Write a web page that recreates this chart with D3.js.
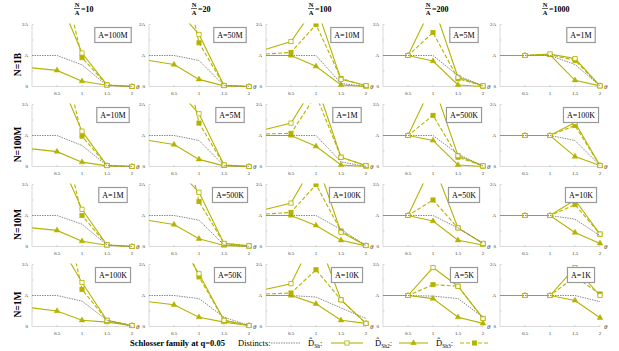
<!DOCTYPE html>
<html>
<head>
<meta charset="utf-8">
<script src="https://cdn.jsdelivr.net/npm/d3@7"></script>
<style>
  html, body { margin: 0; padding: 0; background: #fff; }
  svg { display: block; font-family: "Liberation Serif", "DejaVu Serif", serif; }
</style>
</head>
<body>
<svg id="chart" width="619" height="351"></svg>
<script>
// ---- Data ----
const thetas = [0, 0.5, 1, 1.5, 2];
const xTicks = [0.5, 1, 1.5, 2];
const colRatios = ["10", "20", "100", "200", "1000"];
const rowLabels = ["N=1B", "N=100M", "N=10M", "N=1M"];
const boxLabels = [
  ["A=100M", "A=50M", "A=10M", "A=5M", "A=1M"],
  ["A=10M", "A=5M", "A=1M", "A=500K", "A=100K"],
  ["A=1M", "A=500K", "A=100K", "A=50K", "A=10K"],
  ["A=100K", "A=50K", "A=10K", "A=5K", "A=1K"]
];

// values in units of A, one row per N, one list per N/A column
const distincts = [
  [[1,1,0.7,0.03,0], [1,1,0.84,0.03,0], [1,1,1,0.1,0], [1,1,1,0.35,0.02], [1,1,1,0.71,0.02]],
  [[1,1,0.68,0.03,0], [1,1,0.84,0.03,0], [1,1,1,0.15,0], [1,1,1,0.4,0.02], [1,1,1,0.84,0.03]],
  [[1,1,0.72,0.05,0], [1,1,0.85,0.05,0], [1,1,1,0.55,0.03], [1,1,1,0.6,0.1], [1,1,1,0.88,0.35]],
  [[1,1,0.82,0.2,0], [1,1,0.9,0.3,0.03], [1,1,0.95,0.6,0.26], [1,1,0.98,0.9,0.3], [1,1,1,1,0.8]]
];
const dSh = [
  [[5,3.0,1.08,0.05,0], [3.5,2.6,1.68,0.03,0], [1.2,1.45,2.6,0.23,0.03], [1,1,2.67,0.3,0.02], [1,1,1.05,0.9,0.02]],
  [[5,3.0,1.14,0.03,0], [3.5,2.6,1.7,0.05,0], [1.2,1.4,2.7,0.3,0.03], [1,1,2.7,0.35,0.02], [1,1,1.0,1.42,0.03]],
  [[5,3.0,1.2,0.05,0], [3.5,2.6,1.75,0.1,0.02], [1.2,1.4,2.8,0.46,0.03], [1,1,2.7,0.6,0.1], [1,1,1,1.5,0.4]],
  [[5,2.8,1.42,0.2,0.03], [4,3,1.7,0.2,0.03], [1.2,1.38,3,0.86,0.1], [1,1,1.9,1.3,0.26], [1,1,1,1.9,1.0]]
];
const dSh2 = [
  [[0.6,0.52,0.17,0.04,0], [0.84,0.71,0.23,0.02,0], [1,1,0.65,0.05,0], [1,1,0.82,0.05,0], [1,1,1.02,0.2,0.02]],
  [[0.57,0.48,0.14,0.02,0], [0.84,0.71,0.23,0.02,0], [1,1,0.65,0.05,0], [1,1,0.84,0.05,0], [1,1,1,0.32,0.03]],
  [[0.6,0.52,0.17,0.04,0], [0.84,0.71,0.25,0.03,0], [1,1,0.68,0.2,0.02], [1,1,0.82,0.2,0.05], [1,1,1,0.45,0.1]],
  [[0.6,0.5,0.2,0.14,0.03], [0.8,0.7,0.3,0.14,0.03], [1,1,0.73,0.2,0.1], [1,1,0.9,0.3,0.1], [1,1,1,0.84,0.28]]
];
const dSh3 = [
  [[6,4.3,0.93,0.05,0], [8,5.1,1.41,0.03,0], [1.05,1.1,2.0,0.26,0.02], [1,1,1.74,0.25,0.02], [1,1,1.03,0.84,0.02]],
  [[6,4.4,0.98,0.03,0], [8,5,1.4,0.05,0], [1.05,1.07,2.3,0.3,0.02], [1,1,1.65,0.3,0.02], [1,1,1,1.32,0.03]],
  [[6,4.4,1.0,0.05,0], [8,5,1.45,0.1,0.02], [1.05,1.1,2.0,0.5,0.03], [1,1,1.5,0.6,0.1], [1,1,1,1.35,0.4]],
  [[6,4.85,1.2,0.2,0.03], [5,3.5,1.6,0.2,0.03], [1.05,1.08,1.83,0.86,0.1], [1,1,1.35,1.3,0.26], [1,1,1,1.6,1.05]]
];

// ---- Layout ----
const olive = "#b5b300";
const gray = "#8a8a8a";
const panelW = 100, panelH = 62;
const colX = c => 32 + 117 * c;
const rowY = r => 86.5 + 80 * r;   // y of the zero line

const svg = d3.select("#chart");
const x = d3.scaleLinear().domain([0, 2]).range([0, panelW]);
const y = d3.scaleLinear().domain([0, 2]).range([0, -panelH]);

const series = [
  { data: dSh3, dash: "4,2", marker: "square", fill: olive },
  { data: dSh2, dash: null, marker: "triangle", fill: olive },
  { data: dSh, dash: null, marker: "square", fill: "#fff" },
  { data: distincts, dash: "1.5,1", marker: null, stroke: gray, width: 1 }
];

const line = d3.line().x((d, i) => x(thetas[i])).y(d => y(d));

function marker(sel, type, fill) {
  if (type === "square") {
    sel.append("rect").attr("x", -2.1).attr("y", -2.1).attr("width", 4.2).attr("height", 4.2)
      .attr("fill", fill).attr("stroke", olive).attr("stroke-width", 0.8);
  } else {
    sel.append("path").attr("d", d3.symbol(d3.symbolTriangle, 14)())
      .attr("fill", fill).attr("stroke", olive).attr("stroke-width", 0.5);
  }
}

// ---- Column headers ----
colRatios.forEach((v, c) => {
  const h = svg.append("g").attr("transform", `translate(${colX(c) + 45},0)`)
    .attr("font-weight", "bold");
  h.append("text").attr("x", 0).attr("y", 6.5).attr("text-anchor", "middle")
    .attr("font-size", 6.5).text("N");
  h.append("line").attr("x1", -3).attr("x2", 3).attr("y1", 8.5).attr("y2", 8.5)
    .attr("stroke", "#000").attr("stroke-width", 0.6);
  h.append("text").attr("x", 0).attr("y", 14.5).attr("text-anchor", "middle")
    .attr("font-size", 6.5).text("A");
  h.append("text").attr("x", 4).attr("y", 11.5).attr("font-size", 8).text("=" + v);
});

// ---- Panels ----
rowLabels.forEach((lab, r) => {
  const y0 = rowY(r);
  svg.append("text")
    .attr("transform", `translate(21,${y0 - 22}) rotate(-90)`)
    .attr("text-anchor", "middle").attr("font-weight", "bold").attr("font-size", 9.5)
    .text(lab);

  colRatios.forEach((_, c) => {
    const g = svg.append("g").attr("transform", `translate(${colX(c)},${y0})`);
    const clipId = `clip-${r}-${c}`;
    g.append("clipPath").attr("id", clipId).append("rect")
      .attr("x", -3).attr("y", -panelH - 1).attr("width", panelW + 6).attr("height", panelH + 4);

    // axes
    g.append("line").attr("x1", 0).attr("x2", panelW).attr("stroke", "#c8c8c8").attr("stroke-width", 0.7);
    g.append("line").attr("y1", 0).attr("y2", -panelH).attr("stroke", "#c8c8c8").attr("stroke-width", 0.7);
    [0.5, 1, 1.5, 2].forEach(t => {
      g.append("line").attr("x1", 0).attr("x2", 1.5).attr("y1", y(t)).attr("y2", y(t))
        .attr("stroke", "#bbb").attr("stroke-width", 0.6);
    });
    xTicks.forEach(t => {
      g.append("line").attr("x1", x(t)).attr("x2", x(t)).attr("y1", 0).attr("y2", -1.5)
        .attr("stroke", "#bbb").attr("stroke-width", 0.6);
      g.append("text").attr("x", x(t)).attr("y", 8.5).attr("text-anchor", "middle")
        .attr("font-size", 5).attr("fill", "#333").text(t);
    });
    [[0, "0"], [1, "A"], [2, "2A"]].forEach(([v, s]) => {
      g.append("text").attr("x", -4).attr("y", y(v) + 1.8).attr("text-anchor", "end")
        .attr("font-size", 5).attr("fill", "#333").text(s);
    });
    g.append("text").attr("x", panelW + 4).attr("y", 2).attr("font-size", 7)
      .attr("font-style", "italic").attr("fill", "#333").text("θ");

    // series
    const plot = g.append("g").attr("clip-path", `url(#${clipId})`);
    series.forEach(s => {
      const vals = s.data[r][c];
      plot.append("path").attr("d", line(vals)).attr("fill", "none")
        .attr("stroke", s.stroke || olive).attr("stroke-width", s.width || 1.1)
        .attr("stroke-dasharray", s.dash);
      if (s.marker) {
        vals.forEach((v, i) => {
          if (i === 0) return;
          const m = plot.append("g").attr("transform", `translate(${x(thetas[i])},${y(v)})`);
          marker(m, s.marker, s.fill);
        });
      }
    });

    // label box
    const bx = g.append("g").attr("transform", `translate(${81},${-51.5})`);
    const t = bx.append("text").attr("text-anchor", "middle").attr("y", 3)
      .attr("font-size", 8).text(boxLabels[r][c]);
    const w = t.node().getComputedTextLength() + 7;
    bx.insert("rect", "text").attr("x", -w / 2).attr("y", -7.5).attr("width", w).attr("height", 15)
      .attr("fill", "#fff").attr("stroke", "#999").attr("stroke-width", 1.2);
  });
});

// ---- Legend ----
const lg = svg.append("g").attr("transform", "translate(0,343)");
lg.append("text").attr("x", 130).attr("y", 3).attr("font-weight", "bold").attr("font-size", 8.5)
  .text("Schlosser family at q=0.05");
lg.append("text").attr("x", 238).attr("y", 3).attr("font-size", 8.5).text("Distincts:");
lg.append("line").attr("x1", 271).attr("x2", 301).attr("stroke", gray).attr("stroke-width", 1)
  .attr("stroke-dasharray", "1.5,1");

function hatLabel(xp, sub) {
  const tx = lg.append("text").attr("x", xp).attr("y", 3).attr("font-size", 8.5);
  tx.append("tspan").text("D\u0302");
  tx.append("tspan").attr("font-size", 5.5).attr("dy", 1.5).text(sub);
  tx.append("tspan").attr("dy", -1.5).text(":");
}
const legendItems = [
  { x: 308, sub: "Sh", lx: [331, 363], dash: null, marker: "square", fill: "#fff" },
  { x: 375, sub: "Sh2", lx: [399, 428], dash: null, marker: "triangle", fill: olive },
  { x: 436, sub: "Sh3", lx: [460, 489], dash: "4,2", marker: "square", fill: olive }
];
legendItems.forEach(it => {
  hatLabel(it.x, it.sub);
  lg.append("line").attr("x1", it.lx[0]).attr("x2", it.lx[1]).attr("stroke", olive)
    .attr("stroke-width", 1.1).attr("stroke-dasharray", it.dash);
  const m = lg.append("g").attr("transform", `translate(${(it.lx[0] + it.lx[1]) / 2},0)`);
  marker(m, it.marker, it.fill);
});
</script>
</body>
</html>
